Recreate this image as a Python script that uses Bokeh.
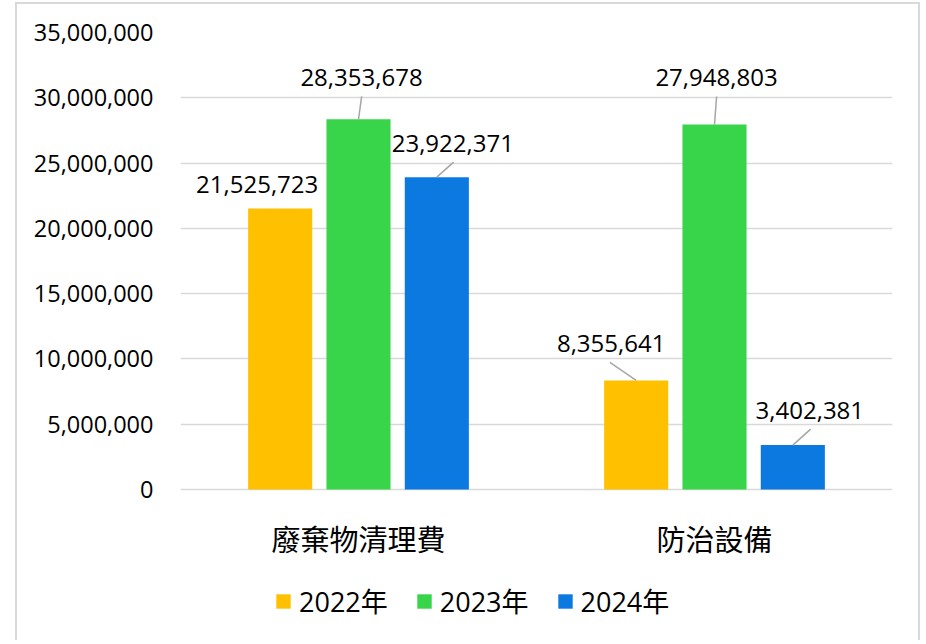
from bokeh.plotting import figure
from bokeh.models import ColumnDataSource, FixedTicker, NumeralTickFormatter, Legend, LegendItem, Range1d
from bokeh.core.properties import value
from bokeh.embed import file_html
from bokeh.resources import INLINE

# ---- data ----
categories = ["廢棄物清理費", "防治設備"]
years = ["2022年", "2023年", "2024年"]
v2022 = [21525723, 8355641]
v2023 = [28353678, 27948803]
v2024 = [23922371, 3402381]
y_ticks = [0, 5000000, 10000000, 15000000, 20000000, 25000000, 30000000, 35000000]

# ---- style ----
colors = ["#FFC000", "#38D54A", "#0B79E0"]
dodges = [-0.22, 0.0, 0.22]
bar_w = 0.18
NUM_FONT = "Open Sans"
CJK_FONT = "Noto Sans CJK TC"
MIX_FONT = "Open Sans, Noto Sans CJK TC"

FRAME_W = 712
PLOT_H = 457          # px from the 0 line to the top value
EXTRA_H = 147         # px below the 0 line (category labels + legend)
Y_MAX = 35000000
px_x = len(categories) / FRAME_W
px_y = Y_MAX / PLOT_H
Y_MIN = -EXTRA_H * px_y

# label offsets (px) from bar top centre: (dx, dy_up, leader?)
label_off = [
    [(-23, 24, False), (3, 42, True), (16, 34, True)],
    [(-25, 37, True), (2, 47, True), (17, 35, True)],
]

p = figure(frame_width=FRAME_W, frame_height=PLOT_H + EXTRA_H,
           output_backend="svg", toolbar_location=None, x_axis_type=None,
           x_range=Range1d(0, len(categories)), y_range=Range1d(Y_MIN, Y_MAX),
           min_border_left=163, min_border_right=26, min_border_top=28, min_border_bottom=4)
p.styles = {"border-left": "2px solid #d9d9d9", "border-top": "2px solid #d9d9d9",
            "border-right": "2px solid #d9d9d9", "margin-left": "15px", "margin-top": "2px"}
p.outline_line_color = None
p.background_fill_color = "white"
p.border_fill_color = "white"

series = [v2022, v2023, v2024]
renderers = []
lx, ly, lt, sx0, sy0, sx1, sy1 = [], [], [], [], [], [], []
for si, vals in enumerate(series):
    xs = [ci + 0.5 + dodges[si] for ci in range(len(categories))]
    src = ColumnDataSource(dict(x=xs, top=vals))
    r = p.vbar(x="x", top="top", bottom=0, width=bar_w, source=src, fill_color=colors[si], line_color=None)
    renderers.append(r)
    for ci, v in enumerate(vals):
        dx, dy, lead = label_off[ci][si]
        tx = xs[ci] + dx * px_x
        ty = v + dy * px_y
        lx.append(tx); ly.append(ty); lt.append(f"{v:,}")
        if lead:
            sx0.append(tx + (dx * 0.05) * px_x); sy0.append(ty - 19 * px_y)
            sx1.append(xs[ci]); sy1.append(v)

p.segment(x0=sx0, y0=sy0, x1=sx1, y1=sy1, line_color="#a6a6a6", line_width=1.5)
p.text(x=lx, y=ly, text=lt, text_align="center", text_baseline="middle",
       text_font=value(NUM_FONT), text_font_size="24px", text_color="#000000")

# category labels under the zero line
cat_x = [i + 0.5 for i in range(len(categories))]
cat_y = [-48 * px_y] * len(categories)
p.text(x=cat_x, y=cat_y, text=categories, text_align="center", text_baseline="middle",
       text_font=value(CJK_FONT), text_font_size="29px", text_color="#000000")

p.yaxis.ticker = FixedTicker(ticks=y_ticks)
p.yaxis.formatter = NumeralTickFormatter(format="0,0")
p.yaxis.major_label_text_font = NUM_FONT
p.yaxis.major_label_text_font_size = "23.5px"
p.yaxis.major_label_text_color = "#000000"
p.yaxis.major_label_standoff = 21
p.yaxis.axis_line_color = None
p.yaxis.major_tick_line_color = None
p.yaxis.minor_tick_line_color = None

p.xgrid.grid_line_color = None
p.ygrid.grid_line_color = "#d9d9d9"
p.ygrid.grid_line_width = 1.5

legend = Legend(items=[LegendItem(label=years[i], renderers=[renderers[i]]) for i in range(3)],
                orientation="horizontal", location=(94, 16),
                glyph_width=18, glyph_height=18, label_standoff=7, spacing=27,
                label_text_font=MIX_FONT, label_text_font_size="27px", label_text_color="#000000",
                border_line_color=None, background_fill_alpha=0, padding=0, margin=0)
p.add_layout(legend, "center")

open("out.html", "w").write(file_html(p, INLINE))
